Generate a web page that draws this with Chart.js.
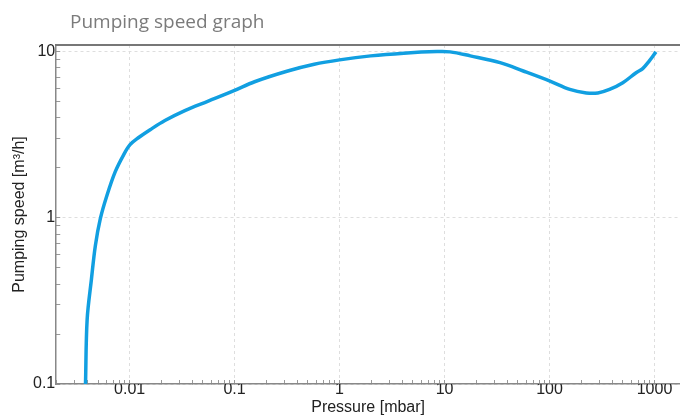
<!DOCTYPE html>
<html>
<head>
<meta charset="utf-8">
<script src="https://cdn.jsdelivr.net/npm/chart.js@4.4.1/dist/chart.umd.min.js"></script>
<style>
  html,body{margin:0;padding:0;background:#fff;}
  #wrap{position:relative;width:680px;height:417px;}
  #title{position:absolute;left:70px;top:12px;font:19px/1 "Open Sans",sans-serif;color:#7b7b7b;}
</style>
</head>
<body>
<div id="wrap">
  <canvas id="c"></canvas>
  <div id="title">Pumping speed graph</div>
</div>
<script>
// pressure [mbar] and pumping speed [m3/h]
const PRESSURE = [0.0038, 0.00394, 0.00433, 0.00472, 0.00526, 0.00609, 0.0073, 0.00877, 0.0101, 0.0122,
  0.0157, 0.0217, 0.0336, 0.0561, 0.1, 0.155, 0.321, 0.574, 1, 1.98,
  4.09, 8.49, 11.3, 17.6, 33.8, 56.2, 101, 156, 224, 289,
  373, 499, 668, 772, 893, 1033];
const SPEED = [0.1, 0.245, 0.429, 0.683, 0.99, 1.37, 1.9, 2.4, 2.76, 3.05,
  3.4, 3.86, 4.43, 5.05, 5.86, 6.61, 7.67, 8.42, 8.95, 9.46,
  9.82, 10.04, 10.0, 9.46, 8.61, 7.67, 6.67, 5.94, 5.66, 5.66,
  5.94, 6.52, 7.49, 7.93, 8.82, 10.0];

const X_MAJOR = [0.01, 0.1, 1, 10, 100, 1000];
const Y_MAJOR = [0.1, 1, 10];
const X_MIN = 0.002, X_MAX = 1750;
const Y_MIN = 0.1, Y_MAX = 11;

// all 1..9 * 10^k inside the range (minor tick marks)
function logTicks(min, max){
  const out = [];
  for(let e=Math.floor(Math.log10(min)); e<=Math.ceil(Math.log10(max)); e++){
    for(let m=1;m<=9;m++){
      const v = +(m*Math.pow(10,e)).toPrecision(6);
      if(v>=min*0.9999 && v<=max*1.0001) out.push(v);
    }
  }
  return out;
}
const isMajor = (v, list) => list.some(m => Math.abs(v/m-1)<1e-6);

const FONT = '"Liberation Sans", Arial, sans-serif';
const TXT = '#222';

function axis(majors, min, max, title, pad, position){
  return {
    type:'logarithmic', min, max, position,
    afterBuildTicks: s => { s.ticks = logTicks(min,max).map(v=>({value:v})); },
    ticks:{
      autoSkip:false, maxRotation:0, color:TXT, font:{family:FONT,size:16,lineHeight:1},
      padding:pad,
      callback: v => isMajor(v, majors) ? String(+v.toPrecision(6)) : ''
    },
    grid:{
      color: ctx => (ctx.tick && isMajor(ctx.tick.value, majors)) ? '#dedede' : 'rgba(0,0,0,0)',
      tickColor:'#999', tickLength:-4, lineWidth:1
    },
    border:{color:'#888', width:1.5, dash:[3,3]},
    title:{display:true, text:title, color:TXT, font:{family:FONT,size:16,lineHeight:1}, padding:{top:0,bottom:0}}
  };
}

new Chart(document.getElementById('c'), {
  type:'line',
  data:{ datasets:[{
    data: PRESSURE.map((p,i)=>({x:p, y:SPEED[i]})),
    borderColor:'#119fe1', borderWidth:3.5, pointRadius:0,
    tension:0.35, fill:false
  }]},
  options:{
    responsive:true, maintainAspectRatio:false, animation:false,
    layout:{padding:{left:12, top:45, right:0, bottom:1}},
    plugins:{legend:{display:false}, tooltip:{enabled:false}},
    scales:{
      x: axis(X_MAJOR, X_MIN, X_MAX, 'Pressure [mbar]', 2, 'bottom'),
      y: axis(Y_MAJOR, Y_MIN, Y_MAX, 'Pumping speed [m\u00b3/h]', 5, 'left'),
      top:{
        type:'linear', position:'top', min:0, max:1,
        ticks:{display:false},
        grid:{display:false, drawTicks:false},
        border:{display:true, color:'#777', width:2}
      }
    }
  }
});
</script>
</body>
</html>
